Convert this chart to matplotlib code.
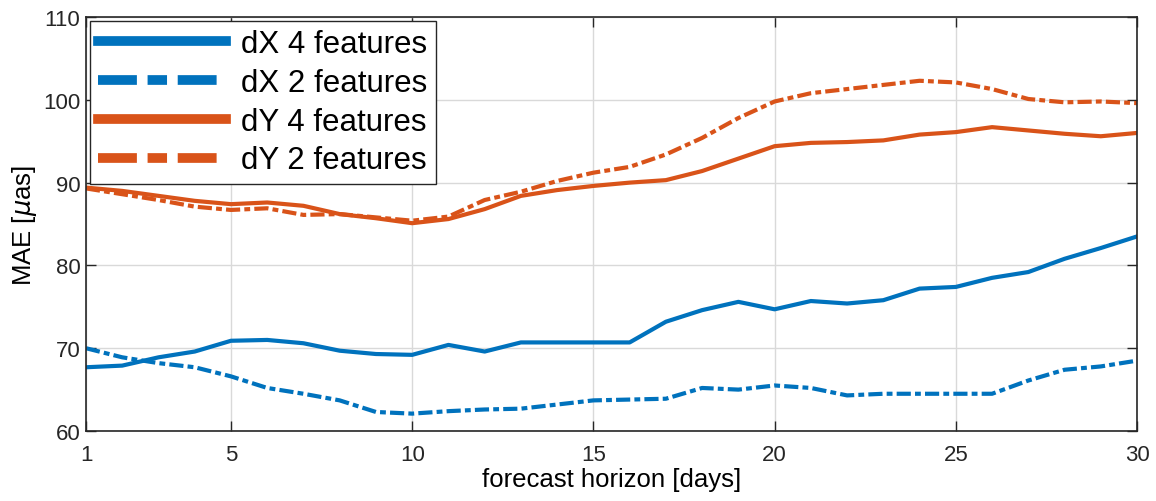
import numpy as np
import matplotlib.pyplot as plt
from matplotlib.lines import Line2D

plt.rcParams['font.family'] = ['Liberation Sans', 'DejaVu Sans']
plt.rcParams['mathtext.fontset'] = 'dejavusans'

# forecast horizon (days)
days = np.arange(1, 31)

# MAE values [micro-arcseconds]
dx_4 = [67.7, 67.9, 68.9, 69.6, 70.9, 71.0, 70.6, 69.7, 69.3, 69.2,
        70.4, 69.6, 70.7, 70.7, 70.7, 70.7, 73.2, 74.6, 75.6, 74.7,
        75.7, 75.4, 75.8, 77.2, 77.4, 78.5, 79.2, 80.8, 82.1, 83.5]
dx_2 = [70.0, 68.9, 68.2, 67.7, 66.6, 65.2, 64.5, 63.7, 62.3, 62.1,
        62.4, 62.6, 62.7, 63.2, 63.7, 63.8, 63.9, 65.2, 65.0, 65.5,
        65.2, 64.3, 64.5, 64.5, 64.5, 64.5, 66.1, 67.4, 67.8, 68.5]
dy_4 = [89.4, 89.0, 88.4, 87.8, 87.4, 87.6, 87.2, 86.2, 85.7, 85.1,
        85.6, 86.8, 88.4, 89.1, 89.6, 90.0, 90.3, 91.4, 92.9, 94.4,
        94.8, 94.9, 95.1, 95.8, 96.1, 96.7, 96.3, 95.9, 95.6, 96.0]
dy_2 = [89.3, 88.6, 87.9, 87.1, 86.7, 86.9, 86.1, 86.2, 85.8, 85.4,
        85.9, 87.9, 88.9, 90.2, 91.2, 91.9, 93.4, 95.4, 97.8, 99.8,
        100.8, 101.3, 101.8, 102.3, 102.1, 101.3, 100.1, 99.7, 99.8, 99.6]

labels = ['dX 4 features', 'dX 2 features', 'dY 4 features', 'dY 2 features']

blue = '#0072BD'
orange = '#D95319'
dashdot = (0, (3.4, 1.0, 1.4, 1.0))

fig = plt.figure(figsize=(11.56, 5.02), dpi=100)
ax = fig.add_axes([0.0744, 0.1394, 0.9092, 0.8247])

ax.plot(days, dx_4, color=blue, lw=3)
ax.plot(days, dx_2, color=blue, lw=3, linestyle=dashdot)
ax.plot(days, dy_4, color=orange, lw=3)
ax.plot(days, dy_2, color=orange, lw=3, linestyle=dashdot)

ax.set_xlim(1, 30)
ax.set_ylim(60, 110)
ax.set_xticks([1, 5, 10, 15, 20, 25, 30])
ax.set_yticks(np.arange(60, 111, 10))
ax.grid(True, color='#d9d9d9', lw=1)
ax.set_axisbelow(True)
ax.tick_params(direction='in', length=7, width=1, colors='#262626',
               labelsize=16, top=True, right=True, pad=4)
ax.tick_params(axis='x', pad=9)
for s in ax.spines.values():
    s.set_color('#262626')
    s.set_linewidth(1.2)

ax.set_xlabel('forecast horizon [days]', fontsize=18.5, labelpad=2)
ax.set_ylabel(r'MAE [$\mu$as]', fontsize=18.5, labelpad=3)

# legend uses thicker lines than the plot
handles = [Line2D([], [], color=blue, lw=7),
           Line2D([], [], color=blue, lw=7, linestyle=(0, (4.0, 1.1, 2.0, 1.1))),
           Line2D([], [], color=orange, lw=7),
           Line2D([], [], color=orange, lw=7, linestyle=(0, (4.0, 1.1, 2.0, 1.1)))]
leg = ax.legend(handles, labels, loc='upper left', fontsize=22.5,
                handlelength=4.1, handletextpad=0.48, borderpad=0.27,
                labelspacing=0.28, borderaxespad=0.12, fancybox=False,
                framealpha=1)
leg.get_frame().set_edgecolor('#262626')
leg.get_frame().set_linewidth(1.0)

fig.savefig('out.png', dpi=100)
